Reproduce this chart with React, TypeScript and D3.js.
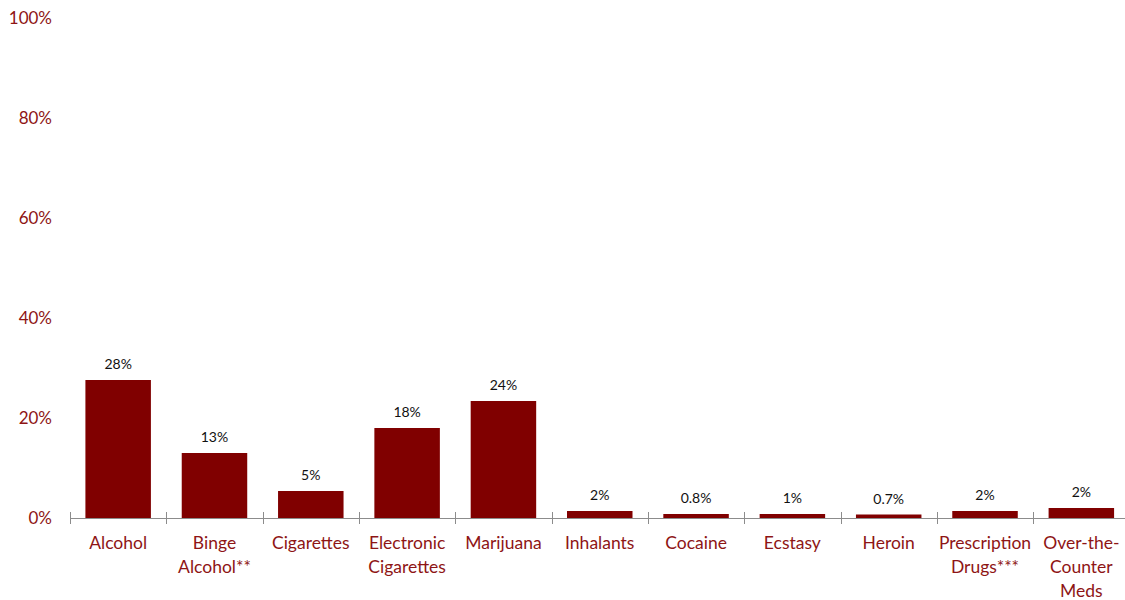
import React from "react";
import * as d3 from "d3";

const categories: string[][] = [
  ["Alcohol"],
  ["Binge", "Alcohol**"],
  ["Cigarettes"],
  ["Electronic", "Cigarettes"],
  ["Marijuana"],
  ["Inhalants"],
  ["Cocaine"],
  ["Ecstasy"],
  ["Heroin"],
  ["Prescription", "Drugs***"],
  ["Over-the-", "Counter", "Meds"],
];
const values: number[] = [27.6, 13.0, 5.4, 18.0, 23.4, 1.4, 0.8, 0.8, 0.7, 1.4, 2.0];
const valueLabels: string[] = ["28%", "13%", "5%", "18%", "24%", "2%", "0.8%", "1%", "0.7%", "2%", "2%"];
const yTicks: number[] = [0, 20, 40, 60, 80, 100];

const W = 1125;
const H = 600;
const FONT = "Lato, 'Open Sans', sans-serif";
const BAR = "#800000";
const TXT = "#8E1515";

export default function App() {
  const keys = categories.map((_, i) => String(i));
  const x = d3.scaleBand<string>().domain(keys).range([70, 1129.5]).paddingInner(0.32).paddingOuter(0.16);
  const y = d3.scaleLinear().domain([0, 100]).range([518, 18]);
  const step = x.step();
  const x0 = 70;
  return (
    <svg width={W} height={H} style={{ position: "absolute", left: 0, top: 0 }} fontFamily={FONT}>
      {yTicks.map((t) => (
        <text key={t} x={52} y={y(t)} dy="0.35em" textAnchor="end" fontSize={17} fill={TXT}>
          {t}%
        </text>
      ))}
      {values.map((v, i) => (
        <rect key={i} x={x(String(i))} y={y(v)} width={x.bandwidth()} height={y(0) - y(v)} fill={BAR} />
      ))}
      <line x1={70} x2={1125} y1={518.5} y2={518.5} stroke="#8c8c8c" strokeWidth={1} />
      {d3.range(categories.length + 1).map((i) => (
        <line key={i} x1={Math.round(x0 + i * step) + 0.5} x2={Math.round(x0 + i * step) + 0.5} y1={512} y2={524} stroke="#8c8c8c" strokeWidth={1} />
      ))}
      {values.map((v, i) => (
        <text key={i} x={(x(String(i)) as number) + x.bandwidth() / 2} y={y(v) - 11} textAnchor="middle" fontSize={14} fill="#111">
          {valueLabels[i]}
        </text>
      ))}
      {categories.map((lines, i) => (
        <text key={i} x={(x(String(i)) as number) + x.bandwidth() / 2} y={549} textAnchor="middle" fontSize={17.5} fill={TXT}>
          {lines.map((l, j) => (
            <tspan key={j} x={(x(String(i)) as number) + x.bandwidth() / 2} dy={j === 0 ? 0 : 24}>
              {l}
            </tspan>
          ))}
        </text>
      ))}
    </svg>
  );
}
